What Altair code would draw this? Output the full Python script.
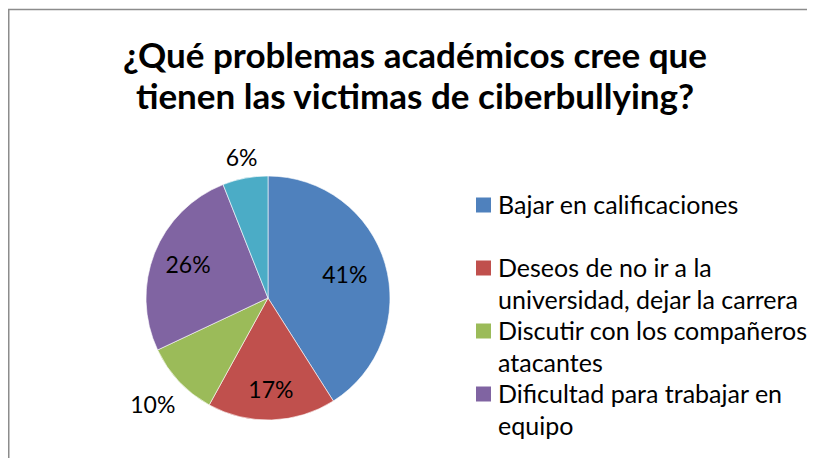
import altair as alt
import pandas as pd

categories = [
    "Bajar en calificaciones",
    "Deseos de no ir a la universidad, dejar la carrera",
    "Discutir con los compañeros atacantes",
    "Dificultad para trabajar en equipo",
    "Otros",
]
legend_text = [
    "Bajar en calificaciones",
    "Deseos de no ir a la\nuniversidad, dejar la carrera",
    "Discutir con los compañeros\natacantes",
    "Dificultad para trabajar en\nequipo",
    "Otros",
]
values = [41, 17, 10, 26, 6]
colors = ["#4F81BD", "#C0504D", "#9BBB59", "#8064A2", "#4BACC6"]
title_lines = ["¿Qué problemas académicos cree que", "tienen las victimas de ciberbullying?"]

FONT = "Lato"
W, H = 799, 450

df = pd.DataFrame({
    "category": categories,
    "legend": legend_text,
    "value": values,
    "idx": list(range(len(categories))),
})

base = alt.Chart(df).transform_joinaggregate(total="sum(value)").transform_calculate(
    label="format(datum.value / datum.total, '.0%')"
)

color = alt.Color("category:N", scale=alt.Scale(domain=categories, range=colors), legend=None)
theta = alt.Theta("value:Q", stack=True)
order = alt.Order("idx:Q")
cx, cy = alt.value(260), alt.value(290)

pie = base.mark_arc(outerRadius=122, stroke="white", strokeWidth=0.6).encode(
    theta=theta, color=color, order=order, x=cx, y=cy
)


def label_layer(test, r):
    return base.mark_text(font=FONT, fontSize=23, color="black").encode(
        theta=theta, order=order, x=cx, y=cy, radius=alt.value(r),
        text=alt.condition(test, "label:N", alt.value("")),
    )


inner_big = label_layer("datum.value >= 30", 80)
inner_mid = label_layer("datum.value >= 20 && datum.value < 30", 86)
inner_small = label_layer("datum.value >= 12 && datum.value < 20", 93)
outer1 = label_layer("datum.value >= 8 && datum.value < 12", 158)
outer2 = label_layer("datum.value < 8", 141)

leg_y = alt.Y("category:N", scale=alt.Scale(type="point", domain=categories[:4], range=[197, 386], padding=0), axis=None)
leg_base = alt.Chart(df).transform_filter("datum.idx < 4")
leg_sym = leg_base.mark_square(size=225, opacity=1, filled=True).encode(
    x=alt.value(475.5), y=leg_y, color=color
)
leg_txt = leg_base.mark_text(
    font=FONT, fontSize=25, align="left", baseline="top", dy=-11, lineHeight=31.7,
    lineBreak="\n", color="black"
).encode(x=alt.value(490), y=leg_y, text="legend:N")

title = alt.Chart(pd.DataFrame({"t": [0]})).mark_text(
    text=title_lines, font=FONT, fontSize=35, fontWeight="bold", align="center",
    baseline="alphabetic", lineHeight=41, color="black"
).encode(x=alt.value(407), y=alt.value(60))

border_top = alt.Chart(pd.DataFrame({"t": [0]})).mark_rule(color="#8c8c8c", strokeWidth=1.5).encode(
    x=alt.value(0), x2=alt.value(W), y=alt.value(1.5)
)
border_left = alt.Chart(pd.DataFrame({"t": [0]})).mark_rule(color="#8c8c8c", strokeWidth=1.5).encode(
    x=alt.value(0.75), y=alt.value(1.5), y2=alt.value(H)
)

chart = alt.layer(
    border_top, border_left, title, pie,
    inner_big, inner_mid, inner_small, outer1, outer2, leg_sym, leg_txt
).properties(
    width=W, height=H, padding=0, autosize=alt.AutoSizeParams(type="none"), background="white"
).configure_view(stroke=None)

chart.save("out.html", embed_options={"renderer": "svg", "actions": False})
